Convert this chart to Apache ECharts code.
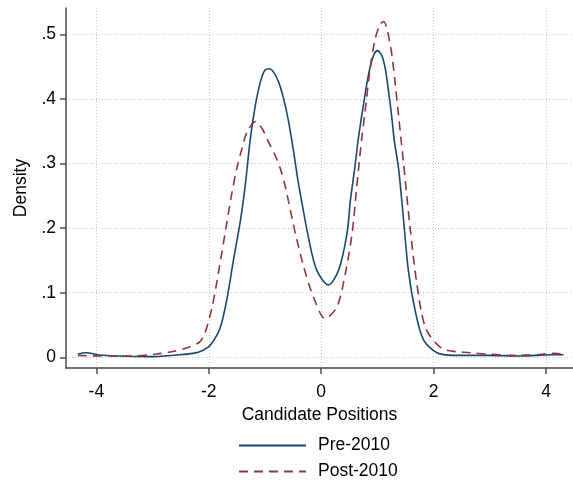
<!DOCTYPE html>
<html>
<head>
<meta charset="utf-8">
<script src="https://cdn.jsdelivr.net/npm/echarts@6/dist/echarts.min.js"></script>
<style>
  html, body { margin: 0; padding: 0; background: #fff; }
  #chart { width: 573px; height: 481px; }
</style>
</head>
<body>
<div id="chart"></div>
<script>
// Kernel density estimates of candidate positions, before and after 2010
const preX = [-4.33, -4.18, -3.94, -3.64, -3.06, -2.58, -2.28, -2.10, -1.97, -1.80, -1.68, -1.56, -1.44, -1.35, -1.26, -1.17, -1.08, -1.00, -0.92, -0.85, -0.76, -0.67, -0.58, -0.49, -0.41, -0.34, -0.23, -0.08, 0.13, 0.31, 0.46, 0.52, 0.60, 0.66, 0.75, 0.84, 0.93, 1.00, 1.08, 1.14, 1.20, 1.26, 1.30, 1.38, 1.46, 1.55, 1.67, 1.82, 2.06, 2.35, 2.95, 3.54, 3.83, 4.13, 4.31];
const preY = [0.005, 0.007, 0.0035, 0.002, 0.001, 0.0035, 0.006, 0.011, 0.019, 0.045, 0.089, 0.151, 0.210, 0.267, 0.339, 0.391, 0.427, 0.445, 0.447, 0.442, 0.427, 0.401, 0.365, 0.318, 0.272, 0.238, 0.187, 0.135, 0.112, 0.135, 0.192, 0.243, 0.295, 0.338, 0.390, 0.437, 0.467, 0.475, 0.467, 0.447, 0.411, 0.369, 0.336, 0.290, 0.218, 0.135, 0.073, 0.027, 0.007, 0.003, 0.003, 0.002, 0.003, 0.004, 0.004];

const postX = [-4.33, -3.94, -3.35, -2.93, -2.64, -2.34, -2.16, -2.07, -1.94, -1.83, -1.71, -1.59, -1.50, -1.41, -1.32, -1.17, -1.05, -0.94, -0.82, -0.73, -0.64, -0.46, -0.31, -0.14, 0.07, 0.28, 0.43, 0.55, 0.63, 0.72, 0.78, 0.87, 0.96, 1.05, 1.11, 1.17, 1.26, 1.32, 1.37, 1.42, 1.46, 1.58, 1.70, 1.85, 2.06, 2.23, 2.65, 2.95, 3.42, 3.83, 4.13, 4.31];
const postY = [0.003, 0.002, 0.002, 0.005, 0.009, 0.016, 0.024, 0.037, 0.078, 0.130, 0.192, 0.254, 0.293, 0.323, 0.349, 0.365, 0.354, 0.334, 0.313, 0.293, 0.265, 0.192, 0.140, 0.094, 0.060, 0.078, 0.130, 0.192, 0.262, 0.338, 0.380, 0.447, 0.493, 0.516, 0.520, 0.509, 0.467, 0.421, 0.380, 0.338, 0.305, 0.202, 0.115, 0.047, 0.020, 0.011, 0.007, 0.005, 0.003, 0.004, 0.006, 0.005];

const xTicks = [-4, -2, 0, 2, 4];
const yTicks = [0, 0.1, 0.2, 0.3, 0.4, 0.5];
const yTickLabels = ['0', '.1', '.2', '.3', '.4', '.5'];

const seriesNames = ['Pre-2010', 'Post-2010'];
const xTitle = 'Candidate Positions';
const yTitle = 'Density';

const pair = (xs, ys) => xs.map((x, i) => [x, ys[i]]);

const font = 'Liberation Sans, Arial, sans-serif';
const fontSize = 17.5;
const axisColor = '#4a4a4a';
const gridLine = { show: true, lineStyle: { color: '#c4c4c4', type: [1, 2], width: 1 } };

const chart = echarts.init(document.getElementById('chart'), null, { renderer: 'canvas' });
chart.setOption({
  animation: false,
  backgroundColor: '#ffffff',
  grid: { left: 66, right: 0, top: 8, bottom: 113, containLabel: false },
  xAxis: {
    type: 'value',
    min: -4.54,
    max: 4.48,
    name: xTitle,
    nameLocation: 'middle',
    nameGap: 27,
    nameTextStyle: { fontFamily: font, fontSize: fontSize, color: '#000' },
    axisLine: { show: true, onZero: false, lineStyle: { color: axisColor, width: 1.5 } },
    axisTick: { show: true, length: 6, customValues: xTicks, lineStyle: { color: axisColor, width: 1.5 } },
    axisLabel: { customValues: xTicks, margin: 15, fontFamily: font, fontSize: fontSize, color: '#000' },
    splitLine: gridLine
  },
  yAxis: {
    type: 'value',
    min: -0.0166,
    max: 0.541,
    name: yTitle,
    nameLocation: 'middle',
    nameGap: 33,
    nameRotate: 90,
    nameTextStyle: { fontFamily: font, fontSize: fontSize, color: '#000' },
    axisLine: { show: true, onZero: false, lineStyle: { color: axisColor, width: 1.5 } },
    axisTick: { show: true, length: 6, customValues: yTicks, lineStyle: { color: axisColor, width: 1.5 } },
    axisLabel: {
      customValues: yTicks,
      margin: 10,
      fontFamily: font,
      fontSize: fontSize,
      color: '#000',
      formatter: v => yTickLabels[yTicks.findIndex(t => Math.abs(t - v) < 1e-6)] ?? ''
    },
    splitLine: gridLine
  },
  legend: {
    show: true,
    orient: 'vertical',
    left: 238,
    top: 436,
    padding: 0,
    itemWidth: 67,
    itemHeight: 14,
    itemGap: 7,
    itemStyle: { opacity: 0 },
    textStyle: { fontFamily: font, fontSize: fontSize, lineHeight: 19, color: '#000', padding: [0, 0, 0, 7] },
    data: seriesNames
  },
  series: [
    {
      name: seriesNames[0],
      type: 'line',
      data: pair(preX, preY),
      smooth: 0.3,
      showSymbol: false,
      symbol: 'none',
      lineStyle: { color: '#1a476f', width: 1.6 },
      itemStyle: { color: '#1a476f' }
    },
    {
      name: seriesNames[1],
      type: 'line',
      data: pair(postX, postY),
      smooth: 0.3,
      showSymbol: false,
      symbol: 'none',
      lineStyle: { color: '#90353b', width: 1.6, type: [9, 6] },
      itemStyle: { color: '#90353b' }
    }
  ]
});
</script>
</body>
</html>
